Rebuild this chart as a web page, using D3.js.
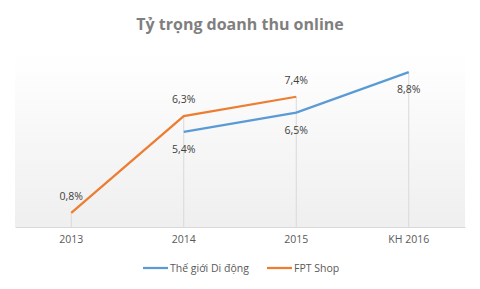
<!DOCTYPE html>
<html>
<head>
<meta charset="utf-8">
<script src="https://cdn.jsdelivr.net/npm/d3@7"></script>
<style>
  body { margin: 0; background: #fff; }
  text { font-family: "Open Sans", sans-serif; }
</style>
</head>
<body>
<svg id="chart"></svg>
<script>
var categories = ["2013", "2014", "2015", "KH 2016"];
var tgddValues = [null, 5.4, 6.5, 8.8];
var fptValues = [0.8, 6.3, 7.4, null];
var seriesNames = ["Thế giới Di động", "FPT Shop"];
var seriesColors = ["#5B9BD5", "#ED7D31"];
var labelSide = [[0, 1, 1, 1], [-1, -1, -1, 0]]; // 1 = below, -1 = above

var width = 480, height = 289;
var margin = { top: 51, right: 15, bottom: 62, left: 15 };

var svg = d3.select("#chart").attr("width", width).attr("height", height);

var x = d3.scaleBand()
    .domain(categories)
    .range([margin.left, width - margin.right]);

var y = d3.scaleLinear()
    .domain([0, 10])
    .range([height - margin.bottom, margin.top]);

var defs = svg.append("defs");
var grad = defs.append("linearGradient")
    .attr("id", "bg")
    .attr("x1", 0).attr("y1", 0).attr("x2", 0).attr("y2", 1);
grad.append("stop").attr("offset", "0%").attr("stop-color", "#ffffff");
grad.append("stop").attr("offset", "100%").attr("stop-color", "#efefef");

svg.append("rect")
    .attr("x", margin.left)
    .attr("y", margin.top)
    .attr("width", width - margin.left - margin.right)
    .attr("height", height - margin.top - margin.bottom)
    .attr("fill", "url(#bg)");

// title
svg.append("text")
    .attr("x", width / 2)
    .attr("y", 30)
    .attr("text-anchor", "middle")
    .attr("font-size", 16)
    .attr("font-weight", "bold")
    .attr("fill", "#7f7f7f")
    .text("Tỷ trọng doanh thu online");

function cx(c) { return x(c) + x.bandwidth() / 2; }

// drop lines
var allSeries = [tgddValues, fptValues];
var tops = categories.map(function(c, i) {
    var vals = allSeries.map(function(s) { return s[i]; }).filter(function(v) { return v != null; });
    return d3.max(vals);
});
svg.selectAll("line.drop")
    .data(categories)
    .enter()
    .append("line")
    .attr("class", "drop")
    .attr("x1", cx).attr("x2", cx)
    .attr("y1", function(d, i) { return y(tops[i]); })
    .attr("y2", y(0))
    .attr("stroke", "#d9d9d9")
    .attr("stroke-width", 1);

// x axis
var xAxis = svg.append("g")
    .attr("transform", "translate(0," + y(0) + ")")
    .call(d3.axisBottom(x).tickSize(0).tickPadding(9));
xAxis.select(".domain").attr("stroke", "#d9d9d9");
xAxis.selectAll("text")
    .attr("font-size", 10.5)
    .attr("fill", "#595959")
    .attr("font-family", "Open Sans, sans-serif");

var line = d3.line()
    .defined(function(d) { return d != null; })
    .x(function(d, i) { return cx(categories[i]); })
    .y(function(d) { return y(d); });

var fmt = function(v) { return d3.format(".1f")(v).replace(".", ",") + "%"; };

allSeries.forEach(function(s, k) {
    svg.append("path")
        .datum(s)
        .attr("d", line)
        .attr("fill", "none")
        .attr("stroke", seriesColors[k])
        .attr("stroke-width", 2.25);

    svg.selectAll("text.lbl" + k)
        .data(s)
        .enter()
        .filter(function(d) { return d != null; })
        .append("text")
        .attr("class", "lbl" + k)
        .attr("x", function(d, i) { return cx(categories[s.indexOf(d)]); })
        .attr("y", function(d) {
            var i = s.indexOf(d);
            return y(d) + labelSide[k][i] * 17 + 4;
        })
        .attr("text-anchor", "middle")
        .attr("font-size", 10.5)
        .attr("fill", "#404040")
        .text(fmt);
});

// legend
var legend = svg.append("g").attr("transform", "translate(0,268)");
var legendX = [143, 267];
seriesNames.forEach(function(name, k) {
    legend.append("line")
        .attr("x1", legendX[k]).attr("x2", legendX[k] + 25)
        .attr("y1", 0).attr("y2", 0)
        .attr("stroke", seriesColors[k])
        .attr("stroke-width", 2.25);
    legend.append("text")
        .attr("x", legendX[k] + 27)
        .attr("y", 4)
        .attr("font-size", 10.5)
        .attr("fill", "#595959")
        .text(name);
});
</script>
</body>
</html>
